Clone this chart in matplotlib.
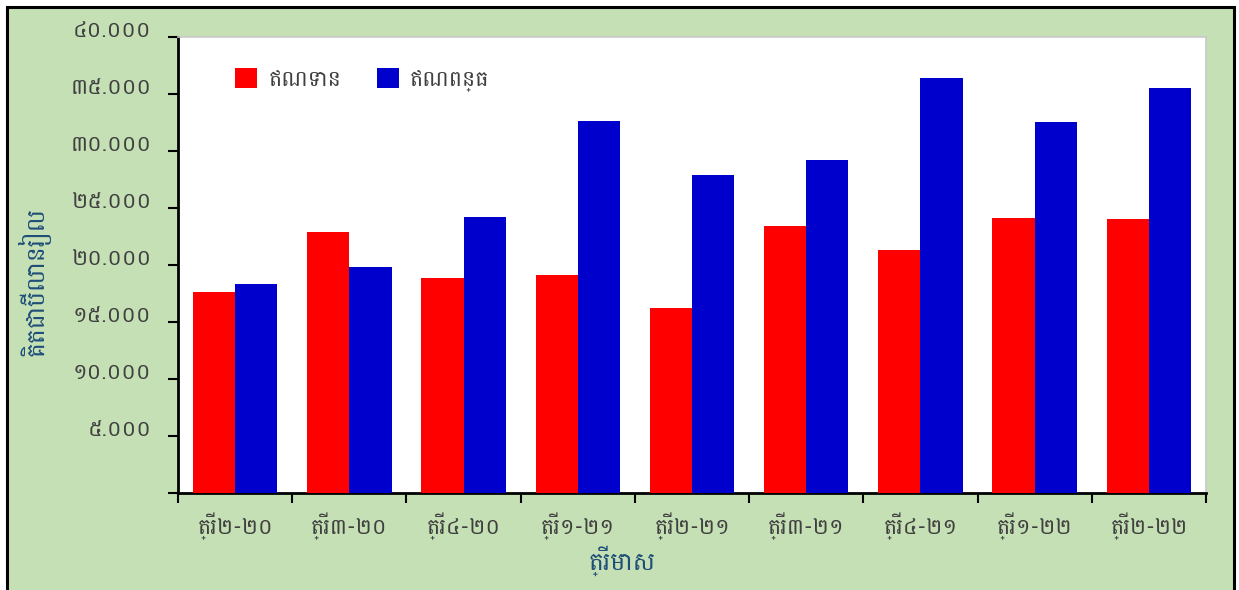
import matplotlib
matplotlib.use('Agg')
import matplotlib.pyplot as plt
from matplotlib.patches import Rectangle
from matplotlib.ticker import FixedLocator, FuncFormatter
import numpy as np

KH_FONT = ['Battambang', 'DejaVu Sans']
plt.rcParams['font.family'] = KH_FONT

categories = ["ត្រី២-២០", "ត្រី៣-២០", "ត្រី៤-២០", "ត្រី១-២១", "ត្រី២-២១",
              "ត្រី៣-២១", "ត្រី៤-២១", "ត្រី១-២២", "ត្រី២-២២"]
credit = [17600, 22900, 18900, 19100, 16200, 23450, 21350, 24150, 24050]
debit = [18300, 19800, 24250, 32650, 27900, 29250, 36400, 32550, 35550]
series_names = ["ឥណទាន", "ឥណពន្ធ"]
y_label = "គិតជាប៊ីលានរៀល"
x_label = "ត្រីមាស"

KH_DIGITS = str.maketrans("0123456789", "០១២៣៤៥៦៧៨៩")

def kh_fmt(v, pos):
    if v <= 0:
        return ""
    s = f"{int(round(v)):,}".replace(",", ".")
    return s.translate(KH_DIGITS)

W, H = 1239, 590
fig = plt.figure(figsize=(W / 100, H / 100), dpi=100)
fig.patch.set_facecolor('white')
fig.patches.append(Rectangle((7 / W, -10 / H), (1234 - 7) / W, (583 + 10) / H,
                             transform=fig.transFigure, facecolor='#C5E0B4',
                             edgecolor='black', linewidth=2.2, zorder=-10))

ax = fig.add_axes([178 / W, 1 - 493 / H, (1206 - 178) / W, (493 - 37) / H])
ax.set_facecolor('white')

x = np.arange(len(categories))
bw = 0.37
ax.bar(x - bw / 2, credit, width=bw, color='#FF0000', label=series_names[0], zorder=3)
ax.bar(x + bw / 2, debit, width=bw, color='#0000CC', label=series_names[1], zorder=3)

ax.set_xlim(-0.5, len(categories) - 0.5)
ax.set_ylim(0, 40000)
ax.set_yticks(np.arange(0, 40001, 5000))
ax.yaxis.set_major_formatter(FuncFormatter(kh_fmt))
ax.tick_params(axis='y', length=7, width=1.5, colors='black', labelcolor='#404040',
               labelsize=16, pad=12)
for lbl in ax.get_yticklabels():
    lbl.set_va('baseline')

ax.set_xticks(x)
ax.set_xticklabels(categories)
ax.xaxis.set_minor_locator(FixedLocator(np.arange(-0.5, len(categories), 1.0)))
ax.tick_params(axis='x', which='major', length=0, labelsize=16, labelcolor='#404040', pad=14)
ax.tick_params(axis='x', which='minor', length=7, width=1.5, color='black')

for s in ['left', 'bottom']:
    ax.spines[s].set_linewidth(2)
    ax.spines[s].set_color('black')
for s in ['top', 'right']:
    ax.spines[s].set_linewidth(1.2)
    ax.spines[s].set_color('#C8C8C8')

ax.set_ylabel(y_label, color='#1F4E79', fontsize=18)
ax.yaxis.set_label_coords(-0.124, 0.465)
ax.set_xlabel(x_label, color='#1F4E79', fontsize=18)
ax.xaxis.set_label_coords(0.432, -0.115)

leg = ax.legend(loc='upper left', bbox_to_anchor=(0.036, 0.975), ncol=2, frameon=False,
                fontsize=16, handlelength=1.0, handleheight=1.0, handletextpad=0.5,
                columnspacing=1.6, labelcolor='#404040')

fig.savefig('out.png', dpi=100, facecolor=fig.get_facecolor())
